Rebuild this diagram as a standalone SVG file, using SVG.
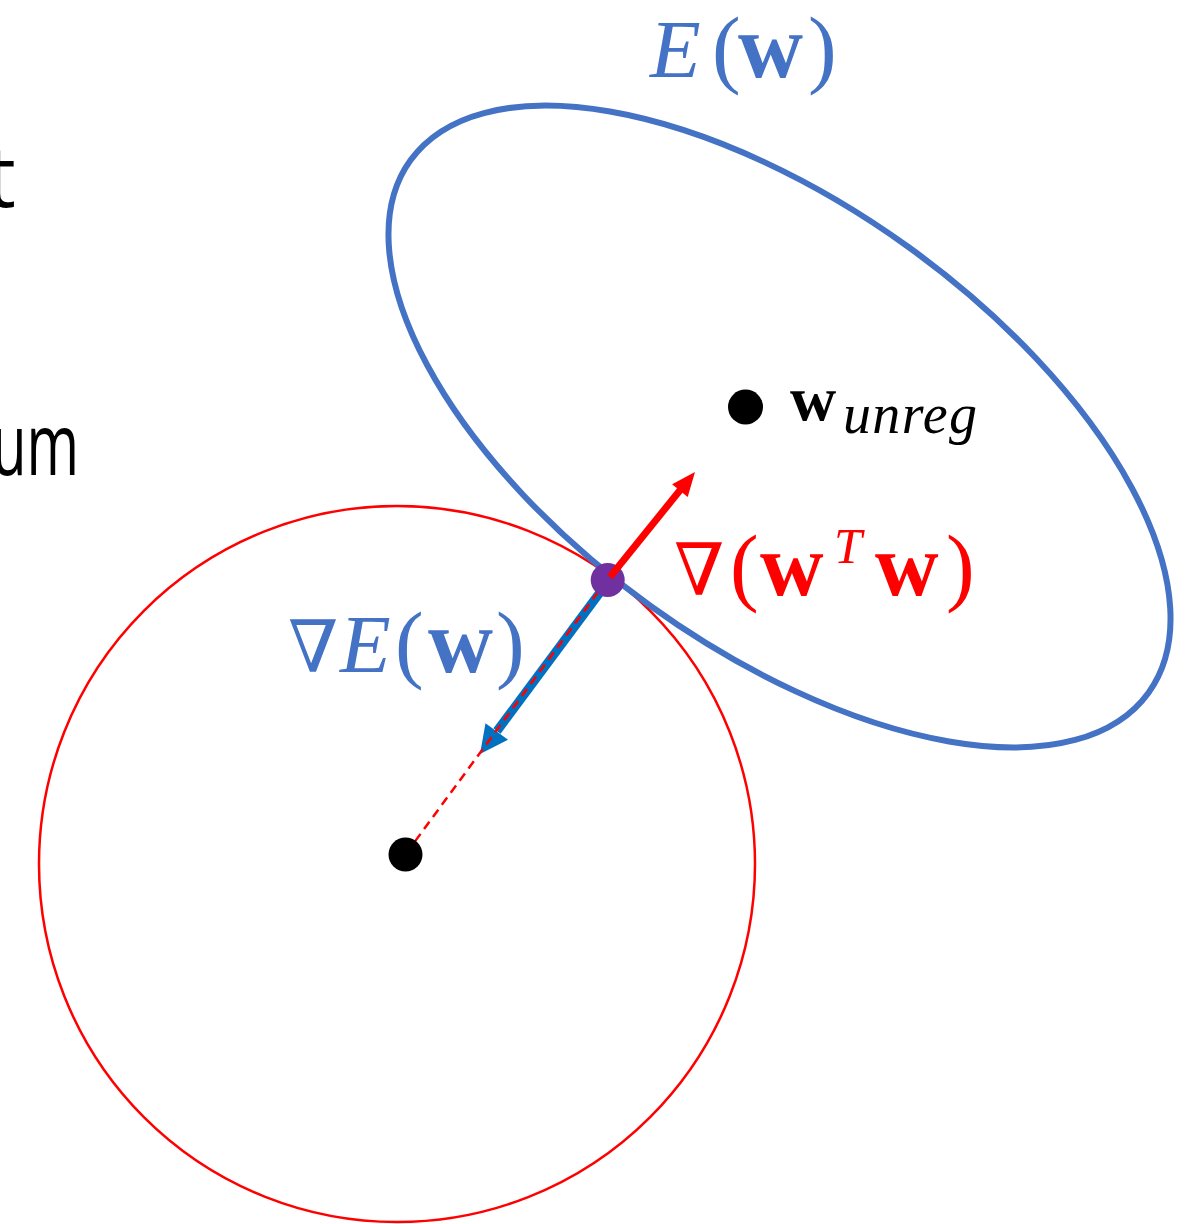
<svg xmlns="http://www.w3.org/2000/svg" width="1196" height="1224" viewBox="0 0 1196 1224">
<style>
.m{font-family:"Liberation Serif","DejaVu Serif",serif}
.nab{font-family:"DejaVu Serif","Liberation Serif",serif;font-style:italic;font-weight:normal}
.it{font-style:italic}
.b{font-weight:bold}
.blue{fill:#4472C4}
.red{fill:#FF0000}
.side{font-family:"Open Sans","Noto Sans",sans-serif;font-size:86px;fill:#000}
</style>
<rect width="1196" height="1224" fill="#fff"/>
<g id="side-text">
<text class="side" x="16" y="207" text-anchor="end">t</text>
<text class="side" transform="translate(79 475) scale(0.66 1)" x="0" y="0" text-anchor="end">um</text>
</g>
<g id="regularizer-circle">
<circle cx="397" cy="864" r="358" fill="none" stroke="#FF0000" stroke-width="2.5"/>
</g>
<g id="error-ellipse">
<ellipse cx="779.5" cy="426.5" rx="455" ry="221" transform="rotate(35.8 779.5 426.5)" fill="none" stroke="#4472C4" stroke-width="6"/>
</g>
<g id="connectors">
<line x1="604" y1="587" x2="497" y2="731" stroke="#0070C0" stroke-width="9"/>
<polygon points="480,754 485.5,723.2 508,739.8" fill="#0070C0"/>
<line x1="607" y1="580" x2="405" y2="855" stroke="#FF0000" stroke-width="2.5" stroke-dasharray="9 6"/>
</g>
<g id="origin-point">
<circle cx="405.5" cy="854.5" r="17" fill="#000"/>
</g>
<g id="unreg-point">
<circle cx="745.5" cy="407" r="17.5" fill="#000"/>
</g>
<g id="solution-point">
<circle cx="607.7" cy="580" r="17" fill="#7030A0"/>
</g>
<g id="reg-gradient-arrow">
<line x1="610" y1="577" x2="681" y2="489" stroke="#FF0000" stroke-width="7"/>
<polygon points="695,472 672.1,484.3 687.7,496.9" fill="#FF0000"/>
</g>
<g id="label-E">
<text class="m blue" y="77"><tspan class="it" x="650" font-size="83">E</tspan><tspan x="712" font-size="86">(</tspan><tspan class="b" x="738" font-size="90">w</tspan><tspan x="808" font-size="86">)</tspan></text>
</g>
<g id="label-gradE">
<text class="m blue" y="672"><tspan class="nab" x="288" font-size="72">∇</tspan><tspan class="it" x="340" font-size="83">E</tspan><tspan x="395" font-size="86">(</tspan><tspan class="b" x="428" font-size="90">w</tspan><tspan x="496" font-size="86">)</tspan></text>
</g>
<g id="label-gradwTw">
<text class="m red" y="595"><tspan class="nab" x="674" font-size="72">∇</tspan><tspan x="730" font-size="86">(</tspan><tspan class="b" x="760" font-size="88">w</tspan><tspan class="it" x="834" y="563" font-size="50">T</tspan><tspan class="b" x="875" y="595" font-size="88">w</tspan><tspan x="946" font-size="86">)</tspan></text>
</g>
<g id="label-wunreg">
<text class="m" fill="#000" y="420"><tspan class="b" x="790" font-size="64">w</tspan><tspan class="it" x="843" y="433" font-size="56" textLength="134" lengthAdjust="spacing">unreg</tspan></text>
</g>
</svg>
